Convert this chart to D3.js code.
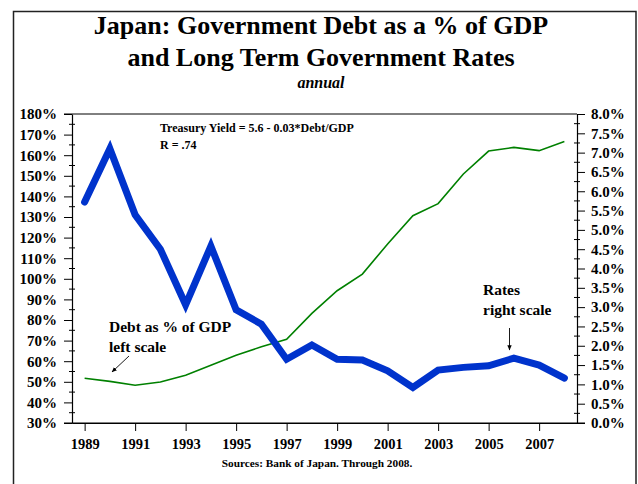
<!DOCTYPE html>
<html><head><meta charset="utf-8">
<script src="https://cdn.jsdelivr.net/npm/d3@7"></script>
<style>
body{margin:0;background:#fff;}
svg{display:block;font-family:"Liberation Serif","Times New Roman",serif;}
</style></head>
<body><svg id="c" width="638" height="484"></svg>
<script>
const years = [1989,1990,1991,1992,1993,1994,1995,1996,1997,1998,1999,2000,2001,2002,2003,2004,2005,2006,2007,2008];
const debtPct = [51.7,50.2,48.3,49.9,53.2,58.0,62.9,67.0,70.6,83.2,94.2,102.3,116.9,130.6,136.5,150.9,162.0,163.8,162.2,166.7];
const ratesPct = [5.72,7.10,5.39,4.50,3.06,4.58,2.93,2.56,1.65,2.02,1.65,1.63,1.35,0.92,1.37,1.44,1.48,1.68,1.50,1.16];
const leftTicks = [30,40,50,60,70,80,90,100,110,120,130,140,150,160,170,180];
const rightTicks = [0,0.5,1,1.5,2,2.5,3,3.5,4,4.5,5,5.5,6,6.5,7,7.5,8];
const yearTicks = [1989,1991,1993,1995,1997,1999,2001,2003,2005,2007];

const svg = d3.select("#c");
const L=72, R=577, T=114, B=423;
const x = d3.scaleLinear().domain([1988.5,2008.5]).range([L,R]);
const yL = d3.scaleLinear().domain([30,180]).range([B,T]);
const yR = d3.scaleLinear().domain([0,8]).range([B,T]);

// frame
svg.append("path").attr("d","M13.5,490V11.5H636V490").attr("fill","none").attr("stroke","#222").attr("stroke-width",1.5);

// title
const title = svg.append("g").attr("text-anchor","middle").attr("font-weight","bold").attr("fill","#000");
title.append("text").attr("x",321).attr("y",34).attr("font-size",26).text("Japan: Government Debt as a % of GDP");
title.append("text").attr("x",321).attr("y",66).attr("font-size",26).text("and Long Term Government Rates");
title.append("text").attr("x",321).attr("y",88).attr("font-size",16).attr("font-style","italic").text("annual");

// left axis
const gl = svg.append("g").attr("transform",`translate(${L},0)`);
gl.call(d3.axisLeft(yL).tickValues(leftTicks).tickSize(8).tickSizeOuter(0).tickFormat(d=>d+"%"));
const minorL = d3.range(35,180,10);
gl.selectAll("line.mn").data(minorL).join("line").attr("class","mn")
  .attr("x1",-3).attr("x2",3).attr("y1",d=>yL(d)).attr("y2",d=>yL(d)).attr("stroke","#000");

// right axis
const gr = svg.append("g").attr("transform",`translate(${R},0)`);
gr.call(d3.axisRight(yR).tickValues(rightTicks).tickSize(8).tickSizeOuter(0).tickFormat(d=>d3.format(".1f")(d)+"%"));
const minorR = d3.range(0.25,8,0.5);
gr.selectAll("line.mn").data(minorR).join("line").attr("class","mn")
  .attr("x1",-3).attr("x2",3).attr("y1",d=>yR(d)).attr("y2",d=>yR(d)).attr("stroke","#000");

// bottom axis
const gb = svg.append("g").attr("transform",`translate(0,${B})`);
gb.call(d3.axisBottom(x).tickValues(yearTicks).tickSize(8).tickSizeOuter(0).tickFormat(d3.format("d")));
// top / bottom borders
svg.append("line").attr("x1",64).attr("x2",R).attr("y1",T).attr("y2",T).attr("stroke","#000");
svg.append("line").attr("x1",64).attr("x2",R+8).attr("y1",B).attr("y2",B).attr("stroke","#000");

[gl,gr,gb].forEach(g=>{
  g.select(".domain").attr("stroke","#000").attr("stroke-width",1.2);
  g.selectAll(".tick line").attr("stroke","#000");
  g.selectAll(".tick text").attr("font-family","Liberation Serif, serif").attr("font-weight","bold").attr("font-size",15).attr("fill","#000");
});
gl.selectAll(".tick text").attr("x",-15);
gr.selectAll(".tick text").attr("x",14);
gb.selectAll(".tick text").attr("y",16).attr("font-size",14.5);

// lines
const debtLine = d3.line().x((d,i)=>x(years[i])).y(d=>yL(d));
const rateLine = d3.line().x((d,i)=>x(years[i])).y(d=>yR(d));
svg.append("path").datum(debtPct).attr("d",debtLine).attr("fill","none").attr("stroke","#008000").attr("stroke-width",1.6);
svg.append("path").datum(ratesPct).attr("d",rateLine).attr("fill","none").attr("stroke","#0033cc").attr("stroke-width",7).attr("stroke-linecap","round").attr("stroke-linejoin","miter");

// annotations
const ann = svg.append("g").attr("font-weight","bold").attr("fill","#000");
ann.append("text").attr("x",160).attr("y",132).attr("font-size",12).text("Treasury Yield = 5.6 - 0.03*Debt/GDP");
ann.append("text").attr("x",160).attr("y",148.5).attr("font-size",12).text("R = .74");
ann.append("text").attr("x",109).attr("y",332).attr("font-size",15.5).text("Debt as % of GDP");
ann.append("text").attr("x",109).attr("y",352).attr("font-size",15.5).text("left scale");
ann.append("text").attr("x",483).attr("y",295).attr("font-size",15.5).text("Rates");
ann.append("text").attr("x",483).attr("y",315).attr("font-size",15.5).text("right scale");

const defs = svg.append("defs");
defs.append("marker").attr("id","ah").attr("viewBox","0 0 10 10").attr("refX",9).attr("refY",5)
  .attr("markerWidth",6).attr("markerHeight",6).attr("orient","auto")
  .append("path").attr("d","M0,1L10,5L0,9z").attr("fill","#000");
svg.append("line").attr("x1",129).attr("y1",356).attr("x2",112).attr("y2",372).attr("stroke","#000").attr("stroke-width",0.9).attr("marker-end","url(#ah)");
svg.append("line").attr("x1",509.5).attr("y1",328).attr("x2",509.5).attr("y2",350).attr("stroke","#000").attr("stroke-width",0.9).attr("marker-end","url(#ah)");

svg.append("text").attr("x",317).attr("y",467).attr("text-anchor","middle").attr("font-weight","bold").attr("font-size",11.3).text("Sources: Bank of Japan. Through 2008.");
</script></body></html>
